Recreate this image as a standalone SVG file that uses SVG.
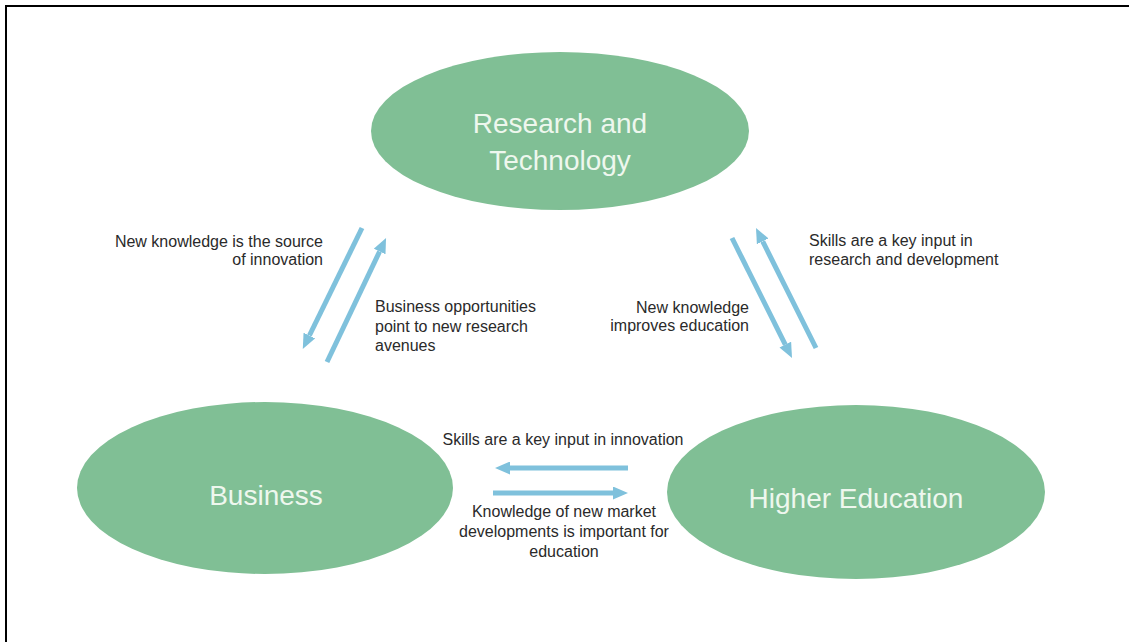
<svg xmlns="http://www.w3.org/2000/svg" width="1129" height="642" viewBox="0 0 1129 642">
<style>
.node{fill:#80bf95;}
.big{font-family:"Liberation Sans",Arial,sans-serif;font-size:28px;fill:#eef7ee;text-anchor:middle;}
.lbl{font-family:"Liberation Sans",Arial,sans-serif;font-size:16px;fill:#2a2a2a;}
.arr{stroke:#7fc1dc;stroke-width:5;fill:none;marker-end:url(#head);}
</style>
<defs>
<marker id="head" markerUnits="userSpaceOnUse" markerWidth="15" markerHeight="13" refX="0" refY="6.5" orient="auto">
<path d="M0,0 L15,6.5 L0,13 z" fill="#7fc1dc"/>
</marker>
</defs>
<rect width="1129" height="642" fill="#ffffff"/>
<g id="frame">
<line x1="5" y1="6" x2="1129" y2="6" stroke="#000" stroke-width="2"/>
<line x1="6" y1="5" x2="6" y2="642" stroke="#000" stroke-width="2"/>
</g>
<g id="research">
<ellipse class="node" cx="560" cy="131" rx="189" ry="79"/>
<text class="big" x="560" y="133">Research and</text>
<text class="big" x="560" y="170">Technology</text>
</g>
<g id="business">
<ellipse class="node" cx="265" cy="488" rx="188" ry="86"/>
<text class="big" x="266" y="505">Business</text>
</g>
<g id="higher-education">
<ellipse class="node" cx="856" cy="492" rx="189" ry="87"/>
<text class="big" x="856" y="508">Higher Education</text>
</g>
<g id="connectors">
<line class="arr" x1="362" y1="228" x2="309.4" y2="335.5"/>
<line class="arr" x1="327" y1="362" x2="379.6" y2="251.5"/>
<line class="arr" x1="732" y1="238" x2="785.3" y2="344.6"/>
<line class="arr" x1="816" y1="348" x2="762.7" y2="241.4"/>
<line class="arr" x1="628" y1="468" x2="510" y2="468"/>
<line class="arr" x1="493" y1="493" x2="613" y2="493"/>
</g>
<g id="labels">
<text class="lbl" text-anchor="end" x="323" y="247">New knowledge is the source</text>
<text class="lbl" text-anchor="end" x="323" y="265">of innovation</text>
<text class="lbl" x="375" y="312">Business opportunities</text>
<text class="lbl" x="375" y="332">point to new research</text>
<text class="lbl" x="375" y="351">avenues</text>
<text class="lbl" x="809" y="246">Skills are a key input in</text>
<text class="lbl" x="809" y="265">research and development</text>
<text class="lbl" text-anchor="end" x="749" y="313">New knowledge</text>
<text class="lbl" text-anchor="end" x="749" y="331">improves education</text>
<text class="lbl" text-anchor="middle" x="563" y="445">Skills are a key input in innovation</text>
<text class="lbl" text-anchor="middle" x="564" y="517">Knowledge of new market</text>
<text class="lbl" text-anchor="middle" x="564" y="537">developments is important for</text>
<text class="lbl" text-anchor="middle" x="564" y="557">education</text>
</g>
</svg>
